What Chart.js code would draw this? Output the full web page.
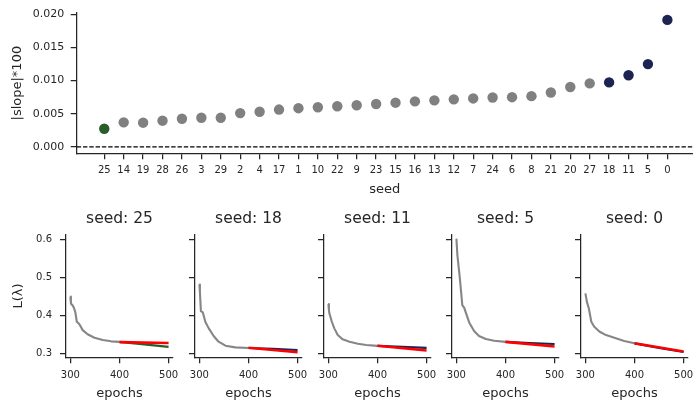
<!DOCTYPE html>
<html><head><meta charset="utf-8">
<script src="https://cdn.jsdelivr.net/npm/chart.js@4/dist/chart.umd.min.js"></script>
<style>
html,body{margin:0;padding:0;background:#fff;width:693px;height:410px;overflow:hidden;position:relative}
canvas{position:absolute}
</style></head><body>
<canvas id="top" width="693" height="200" style="left:0;top:0;width:693px;height:200px"></canvas>
<script>
// ---- data: top panel ----
const seeds = [25,14,19,28,26,3,29,2,4,17,1,10,22,9,23,15,16,13,12,7,24,6,8,21,20,27,18,11,5,0];
const slopes = [0.00273,0.00370,0.00365,0.00395,0.00425,0.00440,0.00440,0.00510,0.00530,0.00563,0.00584,0.00598,0.00613,0.00628,0.00647,0.00667,0.00687,0.00702,0.00717,0.00731,0.00746,0.00750,0.00766,0.00820,0.00904,0.00958,0.00973,0.01081,0.01250,0.01917];
const slopeTicks = [0,0.005,0.01,0.015,0.02];
const greenSeeds = [25];
const navySeeds = [18,11,5,0];

// ---- data: bottom panels ----
const panelSeeds = [25,18,11,5,0];
const epochTicks = [300,400,500];
const lossTicks = [0.3,0.4,0.5,0.6];
const tailEpochs = [400,450,500];
const fitEpochs = [400,500];

const curveEpochs25 = [300,301,305,307,310,313,318,325,335,349,366,383,400];
const curveLoss25   = [0.449,0.431,0.425,0.420,0.408,0.383,0.377,0.361,0.350,0.341,0.335,0.3315,0.330];
const tailLoss25 = [0.330,0.3235,0.317];
const fitLoss25  = [0.3295,0.327];

const curveEpochs18 = [300,301,303,307,312,319,329,339,353,373,400];
const curveLoss18   = [0.481,0.462,0.411,0.4076,0.383,0.3656,0.3455,0.3305,0.320,0.3157,0.314];
const tailLoss18 = [0.314,0.3115,0.3087];
const fitLoss18  = [0.3147,0.3028];

const curveEpochs11 = [300,301,302,307,312,319,329,343,360,377,400];
const curveLoss11   = [0.4294,0.4137,0.405,0.383,0.3656,0.348,0.3367,0.3305,0.3252,0.322,0.3195];
const tailLoss11 = [0.3195,0.317,0.3145];
const fitLoss11  = [0.3197,0.3072];

const curveEpochs5 = [300,302,307,312,316,319,326,336,346,360,377,400];
const curveLoss5   = [0.6018,0.558,0.497,0.4268,0.4197,0.4076,0.3813,0.3585,0.3454,0.3375,0.333,0.330];
const tailLoss5 = [0.330,0.327,0.3245];
const fitLoss5  = [0.330,0.318];

const curveEpochs0 = [300,303,307,312,318,329,342,359,379,400];
const curveLoss0   = [0.4575,0.4354,0.418,0.383,0.3698,0.3567,0.348,0.341,0.3323,0.3262];
const tailLoss0 = [0.3262,0.3145,0.3034];
const fitLoss0  = [0.3265,0.305];

// ---- style ----
const GRAY = '#808080', GREEN = '#2b5d2b', NAVY = '#1c2452', RED = '#ff0000';
const INK = '#262626';
const FONT = 'DejaVu Sans';

function pts(xs, ys){ return xs.map((x,i)=>({x:x, y:ys[i]})); }
function seedColor(s){ return greenSeeds.includes(s) ? GREEN : (navySeeds.includes(s) ? NAVY : GRAY); }

const zeroLine = {
  id:'zeroLine',
  beforeDatasetsDraw(chart){
    const {ctx, chartArea, scales} = chart;
    const py = scales.y.getPixelForValue(0);
    ctx.save(); ctx.strokeStyle = '#000'; ctx.lineWidth = 1.2; ctx.setLineDash([4.4,1.9]);
    ctx.beginPath(); ctx.moveTo(chartArea.left, py); ctx.lineTo(chartArea.right, py); ctx.stroke(); ctx.restore();
  }
};

const axisGrid = {display:true, drawOnChartArea:false, drawTicks:true, tickLength:6, color:INK, lineWidth:1.25};
const axisBorder = {display:true, color:INK, width:1.25};

new Chart(document.getElementById('top'), {
  type:'scatter',
  data:{ datasets:[{
    data: pts(seeds.map((s,i)=>i), slopes),
    pointRadius:5.2, pointHoverRadius:5.2, borderWidth:0,
    pointBackgroundColor: seeds.map(seedColor), pointBorderWidth:0,
    clip:false
  }]},
  options:{
    responsive:false, animation:false, devicePixelRatio:1,
    layout:{autoPadding:false, padding:{top:10.4,right:0,bottom:0,left:0}},
    plugins:{legend:{display:false}, tooltip:{enabled:false}, title:{display:false}},
    scales:{
      x:{ type:'linear', min:-1.42, max:30.32,
        afterBuildTicks: a => { a.ticks = seeds.map((s,i)=>({value:i})); },
        afterFit: a => { a.height = 46.8; },
        grid:axisGrid, border:axisBorder,
        ticks:{ autoSkip:false, maxRotation:0, padding:5.5, color:INK, font:{family:FONT,size:10},
          callback:(v)=> seeds[v] },
        title:{display:true, text:'seed', color:INK, font:{family:FONT,size:13}, padding:{top:0,bottom:2.4}}
      },
      y:{ type:'linear', min:-0.00096, max:0.0202,
        afterBuildTicks: a => { a.ticks = slopeTicks.map(v=>({value:v})); },
        afterFit: a => { a.width = 76.7; },
        grid:axisGrid, border:axisBorder,
        ticks:{ padding:6.5, color:INK, font:{family:FONT,size:11}, callback:(v)=> v.toFixed(3) },
        title:{display:true, text:'|slope|*100', color:INK, font:{family:FONT,size:13}, padding:{top:10.2,bottom:0}}
      }
    }
  },
  plugins:[zeroLine]
});

const panels = [
  {ce:curveEpochs25, cl:curveLoss25, tl:tailLoss25, fl:fitLoss25},
  {ce:curveEpochs18, cl:curveLoss18, tl:tailLoss18, fl:fitLoss18},
  {ce:curveEpochs11, cl:curveLoss11, tl:tailLoss11, fl:fitLoss11},
  {ce:curveEpochs5,  cl:curveLoss5,  tl:tailLoss5,  fl:fitLoss5},
  {ce:curveEpochs0,  cl:curveLoss0,  tl:tailLoss0,  fl:fitLoss0}
];

panelSeeds.forEach((seed, i) => {
  const L = 66 + 128.75*i;
  const cv = document.createElement('canvas');
  cv.width = 179; cv.height = 210;
  cv.style.left = (L-60)+'px'; cv.style.top = '200px';
  cv.style.width = '179px'; cv.style.height = '210px';
  document.body.appendChild(cv);
  const p = panels[i];
  new Chart(cv, {
    type:'scatter',
    data:{ datasets:[
      { data: pts(fitEpochs, p.fl), showLine:true, borderColor:RED, borderWidth:2.6, pointRadius:0, borderCapStyle:'butt' },
      { data: pts(tailEpochs, p.tl), showLine:true, borderColor:seedColor(seed), borderWidth:2.2, pointRadius:0 },
      { data: pts(p.ce, p.cl), showLine:true, borderColor:'rgba(128,128,128,0.95)', borderWidth:2.1, pointRadius:0, borderJoinStyle:'round' }
    ]},
    options:{
      responsive:false, animation:false, devicePixelRatio:1,
      layout:{autoPadding:false, padding:{top:0,right:12,bottom:0,left:0}},
      plugins:{legend:{display:false}, tooltip:{enabled:false},
        title:{display:true, text:'seed: '+seed, fullSize:false, color:INK, font:{family:FONT,size:15.5,weight:'normal'}, padding:{top:10,bottom:6}}},
      scales:{
        x:{ type:'linear', min:291, max:509,
          afterBuildTicks: a => { a.ticks = epochTicks.map(v=>({value:v})); },
          afterFit: a => { a.height = 52.7; },
          grid:axisGrid, border:axisBorder,
          ticks:{ maxRotation:0, padding:6, color:INK, font:{family:FONT,size:10}, callback:(v)=> String(v) },
          title:{display:true, text:'epochs', color:INK, font:{family:FONT,size:13}, padding:{top:0,bottom:9}}
        },
        y:{ type:'linear', min:0.2895, max:0.6123,
          afterBuildTicks: a => { a.ticks = lossTicks.map(v=>({value:v})); },
          afterFit: a => { a.width = 60; },
          grid:axisGrid, border:axisBorder,
          ticks:{ padding:8, color:INK, font:{family:FONT,size:10}, callback:(v)=> i===0 ? v.toFixed(1) : '' },
          title:{display:i===0, text:'L(λ)', color:INK, font:{family:FONT,size:13}, padding:{top:4.5,bottom:0}}
        }
      }
    }
  });
});
</script>
</body></html>
